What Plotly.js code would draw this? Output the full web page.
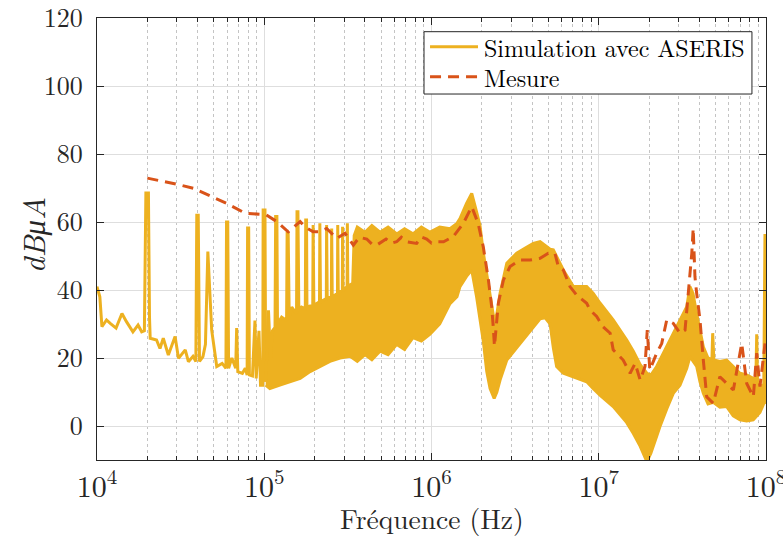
<!DOCTYPE html>
<html>
<head>
<meta charset="utf-8">
<script src="https://cdn.plot.ly/plotly-3.0.1.min.js"></script>
<style>
html,body{margin:0;padding:0;background:#fff;}
#chart text{font-family:'Latin Modern Roman','Liberation Serif',serif !important;}
</style>
</head>
<body>
<div id="chart" style="width:783px;height:538px;"></div>
<script>
// ---- Simulation (low-frequency part, individual line) ----
const simLowF = [1e4,1.04e4,1.07e4,1.14e4,1.2e4,1.3e4,1.41e4,1.5e4,1.64e4,1.76e4,1.85e4,1.92e4,1.96e4,2.03e4,2.06e4,2.08e4,2.27e4,2.38e4,2.49e4,2.67e4,2.93e4,3.07e4,3.37e4,3.52e4,3.75e4,3.9e4,3.95e4,4.03e4,4.1e4,4.3e4,4.45e4,4.6e4,4.72e4,4.85e4,5.2e4,5.6e4,5.9e4,5.95e4,6.05e4,6.12e4,6.4e4,6.75e4,6.84e4,6.95e4,7.4e4,7.7e4,7.9e4,7.95e4,8.07e4,8.15e4,8.5e4,8.8e4,8.95e4,9.3e4,9.5e4,9.8e4,9.85e4,1.01e5,1.02e5];
const simLowY = [41,38,29.2,31.2,30.2,28.8,33.1,30.7,27.7,29.7,27.7,28,68.5,68.5,32,25.8,25.3,22.8,25.8,20.9,26.3,19.9,22.4,18.9,20.5,19,62,62,19,20.4,24,51.3,40,28.2,17.5,18.4,17,60,60,17,20,17,28.8,16,15.5,17,15,58.2,58.2,15,14.7,31,14,28,12,12,63.5,63.5,13];

// ---- Simulation (dense band): upper envelope with spikes ----
const bandHiF = [1.02e5,1.06e5,1.09e5,1.12e5,1.16e5,1.17e5,1.19e5,1.2e5,1.27e5,1.36e5,1.37e5,1.39e5,1.41e5,1.46e5,1.56e5,1.57e5,1.59e5,1.61e5,1.67e5,1.76e5,1.77e5,1.79e5,1.8e5,1.95e5,1.96e5,1.98e5,2.14e5,2.15e5,2.17e5,2.35e5,2.36e5,2.38e5,2.52e5,2.53e5,2.55e5,2.74e5,2.75e5,2.77e5,2.93e5,2.94e5,2.96e5,3.13e5,3.14e5,3.16e5,3.38e5,3.45e5,3.6e5,4.0e5,4.4e5,4.92e5,5.5e5,6.2e5,6.9e5,7.75e5,8.7e5,9.8e5,1.12e6,1.29e6,1.42e6,1.48e6,1.62e6,1.74e6,1.86e6,1.95e6,2.04e6,2.14e6,2.24e6,2.37e6,2.46e6,2.57e6,2.82e6,3.23e6,3.68e6,4.06e6,4.46e6,4.78e6,5.12e6,5.35e6,5.6e6,6.14e6,7.05e6,8.47e6,9.28e6,1.02e7,1.22e7,1.47e7,1.61e7,1.77e7,1.94e7,2.05e7,2.22e7,2.32e7,2.55e7,2.79e7,3.06e7,3.2e7,3.36e7,3.51e7,3.66e7,3.85e7,4.03e7,4.22e7,4.5e7,4.75e7,4.8e7,4.88e7,5.3e7,5.82e7,6.37e7,6.99e7,7.66e7,8.39e7,8.7e7,8.8e7,8.9e7,9.2e7,9.7e7,9.78e7,9.86e7,9.92e7,1e8];
const bandHi = [13,34,20,28,29,61.6,61.6,30,32,31,56.7,56.7,32,35,33,63,63,34,35,34.5,60.6,60.6,35,35.5,59.1,35.5,36.5,59.6,36.5,37.5,59.1,37.5,38,58.1,38,39,59.1,39,40,58.6,40,41,59.6,41,42,56,58.5,57,59,57,58.5,56.5,58,56.5,58.5,57,58.5,58,59.6,61,65.5,68.4,63,59,51,45,39,31,33,39,47.9,50.8,52.5,53.7,54.2,53,52,51.8,50,45.9,41,41,39,36.1,31.2,25.3,22,18,15.5,15,17.5,19.4,23,27,31.2,33,35.1,41,39,33,28,23.3,20,19.5,27.3,19.4,19,19.4,17.5,15.5,15,14,14,27,13,12,12,56.5,56.5,20,20];

// ---- Simulation (dense band): lower envelope ----
const bandLoF = [1.02e5,1.08e5,1.24e5,1.43e5,1.64e5,1.88e5,2.15e5,2.47e5,2.84e5,3.26e5,3.6e5,4.0e5,4.4e5,4.92e5,5.5e5,6.2e5,6.9e5,7.75e5,8.7e5,9.8e5,1.12e6,1.29e6,1.42e6,1.48e6,1.62e6,1.74e6,1.86e6,1.95e6,2.04e6,2.14e6,2.24e6,2.37e6,2.46e6,2.57e6,2.82e6,3.23e6,3.68e6,4.06e6,4.46e6,4.78e6,5.12e6,5.35e6,5.6e6,6.14e6,7.05e6,8.47e6,9.28e6,1.02e7,1.22e7,1.47e7,1.61e7,1.77e7,1.94e7,2.05e7,2.22e7,2.32e7,2.55e7,2.79e7,3.06e7,3.2e7,3.36e7,3.51e7,3.66e7,3.85e7,4.03e7,4.22e7,4.5e7,4.84e7,5.3e7,5.82e7,6.37e7,6.99e7,7.66e7,8.39e7,9.2e7,9.72e7,1e8];
const bandLo = [12,11,12,13,14,16,17.5,19,20,20.5,19,21,19.5,22,21,24,22.5,26,25,27,30,36,38,41,44,45.9,38,32,25,16,11,8.1,10,13.5,19.4,23,26.5,29.2,31.5,31.8,30,23,17.5,15.5,14.5,13,11,9,5.7,1,-2.2,-6,-10.5,-8,-3,-0.2,5,9.6,12,14.5,17,20.4,19,17.5,13,9.6,6.5,7,5.5,5.7,3,1.8,1.5,1.8,4,6.7,7];

// ---- Mesure ----
const measF = [2e4,2.86e4,3.13e4,3.77e4,4.43e4,4.96e4,5.96e4,7.67e4,9.87e4,1.03e5,1.19e5,1.39e5,1.64e5,1.75e5,1.96e5,2.1e5,2.36e5,2.71e5,3.04e5,3.41e5,3.7e5,4.1e5,4.4e5,4.7e5,5.35e5,5.8e5,6.19e5,6.6e5,7.11e5,8.15e5,8.7e5,9.36e5,1.0e6,1.07e6,1.18e6,1.35e6,1.55e6,1.74e6,1.9e6,2.04e6,2.19e6,2.29e6,2.34e6,2.38e6,2.51e6,2.69e6,2.95e6,3.38e6,3.88e6,4.46e6,4.99e6,5.47e6,5.73e6,6.14e6,6.73e6,7.38e6,8.47e6,8.87e6,9.72e6,1.06e7,1.17e7,1.22e7,1.4e7,1.54e7,1.65e7,1.77e7,1.89e7,1.95e7,2.02e7,2.22e7,2.38e7,2.55e7,2.79e7,3.06e7,3.28e7,3.43e7,3.6e7,3.67e7,3.76e7,3.85e7,4.03e7,4.22e7,4.42e7,4.84e7,5.3e7,5.82e7,6.38e7,7.16e7,7.67e7,8.4e7,8.8e7,9.2e7,9.87e7];
const measY = [72.9,71.4,70.9,69.9,68.4,67.4,65.5,62.6,62.1,62.1,60.1,57.1,60.1,58.6,57.1,57.1,58.1,55.2,56.7,53.2,55.5,55,53.5,53.2,55,53.8,54.2,55.5,54.2,53.7,55.6,55,53.8,54.2,54.2,55.7,59.6,64.5,59.6,52.7,42.9,35.1,29.2,23.5,36.1,42.9,46.9,48.8,48.8,49.3,50.8,50.8,46.9,45.9,41,38.5,36.1,34.1,32.2,29.2,27.3,22.4,19.4,15.5,18.4,13.5,17.5,28.2,16.5,21.4,24.3,31.2,30.2,27.3,28.2,38,50.8,58.1,43.9,39,31.2,19.4,8.6,6.7,14.5,12.5,10.6,24.3,12.5,8.6,21.4,11.6,24.3];

const majorX = [1e4,1e5,1e6,1e7,1e8];
const majorXText = ['10<sup>4</sup>','10<sup>5</sup>','10<sup>6</sup>','10<sup>7</sup>','10<sup>8</sup>'];
const yTicks = [0,20,40,60,80,100,120];
const seriesNames = ['Simulation avec ASERIS', 'Mesure'];

const minorX = [];
for (let d = 1e4; d < 1e8; d *= 10) for (let m = 2; m <= 9; m++) minorX.push(m * d);

const yellow = '#EDB120', red = '#D95319', axc = '#262626';
const fam = 'Latin Modern Roman';

const traces = [
  {x: simLowF, y: simLowY, mode: 'lines', name: seriesNames[0], showlegend: false,
   line: {color: yellow, width: 3}},
  {x: bandHiF, y: bandHi, mode: 'lines', name: seriesNames[0], showlegend: false,
   line: {color: yellow, width: 3}},
  {x: bandLoF, y: bandLo, mode: 'lines', name: seriesNames[0], showlegend: false, fill: 'tonexty',
   fillcolor: yellow, line: {color: yellow, width: 3}},
  {x: measF, y: measY, mode: 'lines', name: seriesNames[1], showlegend: false,
   line: {color: red, width: 3, dash: '11px,7px'}}
];

// legend box (paper coordinates)
const lg = {x0: 0.4888, x1: 0.979, y0: 0.828, y1: 0.969, sx0: 0.4978, sx1: 0.5695, tx: 0.575, r1: 0.935, r2: 0.867};

const layout = {
  width: 783, height: 538,
  margin: {l: 97, r: 17, t: 18, b: 78},
  paper_bgcolor: '#fff', plot_bgcolor: '#fff',
  font: {family: fam, color: axc},
  showlegend: false,
  xaxis: {
    type: 'log', range: [3.99999, 8.00001], tickmode: 'array', tickvals: majorX, ticktext: majorXText,
    ticks: 'inside', ticklen: 7, tickcolor: axc, tickwidth: 1,
    showline: true, linecolor: axc, linewidth: 1, mirror: 'ticks',
    showgrid: true, gridcolor: '#dedede', gridwidth: 1, zeroline: false,
    tickfont: {family: fam, size: 30, color: axc}, ticklabelstandoff: 0,
    ticklabeloverflow: 'allow', automargin: false,
    minor: {tickmode: 'array', tickvals: minorX, ticks: 'inside', ticklen: 4, tickcolor: axc,
      showgrid: true, gridcolor: '#c4c4c4', griddash: 'dot', gridwidth: 1}
  },
  yaxis: {
    range: [-10, 120.0001], tickmode: 'array', tickvals: yTicks,
    ticks: 'inside', ticklen: 7, tickcolor: axc, tickwidth: 1,
    showline: true, linecolor: axc, linewidth: 1, mirror: 'ticks',
    showgrid: true, gridcolor: '#dedede', gridwidth: 1, zeroline: false,
    tickfont: {family: fam, size: 26, color: axc}, ticklabelstandoff: 8,
    ticklabeloverflow: 'allow', automargin: false
  },
  shapes: [
    {type: 'rect', xref: 'paper', yref: 'paper', x0: lg.x0, x1: lg.x1, y0: lg.y0, y1: lg.y1,
     fillcolor: '#fff', line: {color: axc, width: 1}, layer: 'above'},
    {type: 'line', xref: 'paper', yref: 'paper', x0: lg.sx0, x1: lg.sx1, y0: lg.r1, y1: lg.r1,
     line: {color: yellow, width: 3}, layer: 'above'},
    {type: 'line', xref: 'paper', yref: 'paper', x0: lg.sx0, x1: lg.sx1, y0: lg.r2, y1: lg.r2,
     line: {color: red, width: 3, dash: '11px,7px'}, layer: 'above'}
  ],
  annotations: [
    {text: '<i>dBμA</i>', xref: 'paper', yref: 'paper', x: -0.097, y: 0.509,
     xanchor: 'center', yanchor: 'middle', textangle: -90, showarrow: false,
     font: {family: fam, size: 31, color: axc}},
    {text: 'Fréquence (Hz)', xref: 'paper', yref: 'paper', x: 0.5, y: -0.131,
     xanchor: 'center', yanchor: 'middle', showarrow: false,
     font: {family: fam, size: 27.5, color: axc}},
    {text: seriesNames[0], xref: 'paper', yref: 'paper', x: lg.tx, y: lg.r1,
     xanchor: 'left', yanchor: 'middle', showarrow: false,
     font: {family: fam, size: 24, color: '#000'}},
    {text: seriesNames[1], xref: 'paper', yref: 'paper', x: lg.tx, y: lg.r2,
     xanchor: 'left', yanchor: 'middle', showarrow: false,
     font: {family: fam, size: 24, color: '#000'}}
  ]
};

Plotly.newPlot('chart', traces, layout, {staticPlot: true, displayModeBar: false});
</script>
</body>
</html>
